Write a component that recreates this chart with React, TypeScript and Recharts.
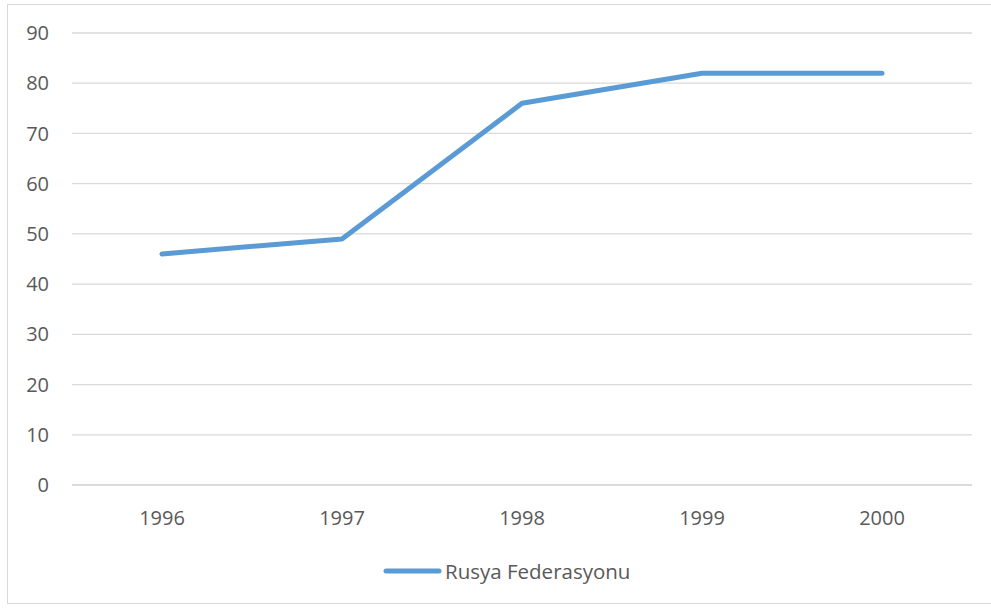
import { LineChart, Line, XAxis, YAxis, CartesianGrid, Legend } from "recharts";

const years = ["1996", "1997", "1998", "1999", "2000"];
const rusya = [46, 49, 76, 82, 82];
const yTicks = [0, 10, 20, 30, 40, 50, 60, 70, 80, 90];

const data = years.map((y, i) => ({ year: y, rusya: rusya[i] }));

const FONT = "'Open Sans', sans-serif";
const TEXT = "#595959";
const GRID = "#d9d9d9";
const BLUE = "#5b9bd5";

function LegendBox() {
  return (
    <div style={{ display: "flex", alignItems: "center", fontFamily: FONT, fontSize: 20.5, color: TEXT }}>
      <svg width={60} height={10} style={{ marginRight: 2 }}>
        <line x1={3} y1={5} x2={56} y2={5} stroke={BLUE} strokeWidth={5} strokeLinecap="round" />
      </svg>
      <span>Rusya Federasyonu</span>
    </div>
  );
}

export default function App() {
  return (
    <div style={{ position: "absolute", left: 0, top: 0, width: 991, height: 608, background: "#fff" }}>
      <div
        style={{
          position: "absolute", left: 7, top: 4, width: 990, height: 600,
          border: `1px solid ${GRID}`, boxSizing: "border-box",
        }}
      />
      <LineChart
        width={991}
        height={608}
        data={data}
        margin={{ top: 33, right: 19, bottom: 83, left: 0 }}
        style={{ position: "absolute", left: 0, top: 0 }}
      >
        <CartesianGrid vertical={false} stroke={GRID} strokeWidth={1.3} />
        <XAxis
          dataKey="year"
          height={40}
          padding={{ left: 90, right: 90 }}
          axisLine={{ stroke: GRID, strokeWidth: 1.3 }}
          tickLine={false}
          tickSize={0}
          tickMargin={26}
          tick={{ fill: TEXT, fontSize: 20, fontFamily: FONT }}
        />
        <YAxis
          width={72}
          domain={[0, 90]}
          ticks={yTicks}
          axisLine={false}
          tickLine={false}
          tickSize={0}
          tickMargin={23}
          tick={{ fill: TEXT, fontSize: 20, fontFamily: FONT }}
        />
        <Legend
          verticalAlign="middle"
          layout="horizontal"
          content={() => <LegendBox />}
          wrapperStyle={{ top: 557, left: 383, width: 300 }}
        />
        <Line
          dataKey="rusya"
          name="Rusya Federasyonu"
          stroke={BLUE}
          strokeWidth={5}
          strokeLinecap="round"
          strokeLinejoin="round"
          dot={false}
          isAnimationActive={false}
        />
      </LineChart>
    </div>
  );
}
